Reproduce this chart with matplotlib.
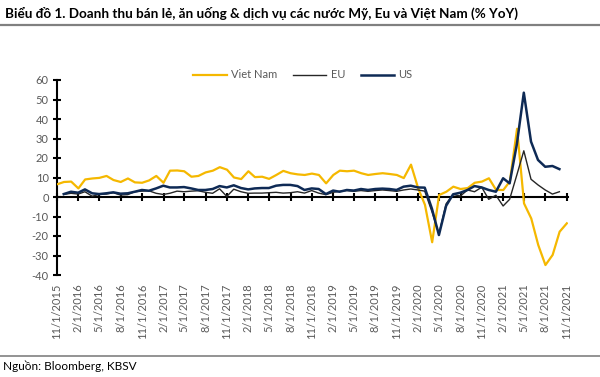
import numpy as np
import pandas as pd
import matplotlib
matplotlib.use("Agg")
import matplotlib.pyplot as plt

plt.rcParams['font.family'] = ['Lato', 'DejaVu Sans']

# Viet Nam, monthly from 11/2015 to 11/2021 (% YoY)
vn = [6.5, 7.7, 7.9, 4.4, 9.0, 9.5, 9.8, 10.8, 8.7, 7.7, 9.5, 7.5,
      7.3, 8.5, 10.8, 7.3, 13.5, 13.6, 13.2, 10.4, 10.8, 12.6, 13.5, 15.3,
      14.0, 10.0, 9.2, 13.2, 10.2, 10.4, 9.3, 11.3, 13.4, 12.2, 11.6, 11.3,
      12.0, 11.3, 7.0, 11.3, 13.5, 13.2, 13.5, 12.2, 11.3, 11.8, 12.2, 11.8,
      11.3, 9.7, 16.6, 4.4, -4.0, -23.2, 1.0, 2.7, 5.3, 4.1, 4.6, 7.3,
      7.9, 9.6, 3.6, 3.6, 8.0, 35.0, -3.3, -11.0, -24.6, -34.9, -29.7, -17.8,
      -13.5]

# US and EU, month-end from 11/2015 to 9/2021 (% YoY)
us = [1.5, 2.7, 2.2, 3.9, 1.9, 1.5, 1.9, 2.4, 1.7, 1.9, 2.7, 3.6,
      3.2, 4.4, 5.8, 4.9, 4.9, 5.1, 4.4, 3.6, 3.6, 4.1, 5.6, 4.9,
      6.0, 4.6, 3.9, 4.4, 4.6, 4.6, 5.8, 6.2, 6.2, 5.6, 3.6, 4.4,
      4.1, 1.5, 3.3, 2.7, 3.6, 3.3, 4.1, 3.6, 4.1, 4.3, 4.1, 3.6,
      5.3, 5.8, 4.9, 4.8, -6.0, -19.5, -4.5, 1.4, 2.2, 3.6, 5.6, 4.9,
      3.6, 2.7, 9.6, 7.0, 27.0, 53.5, 28.4, 19.0, 15.5, 15.9, 14.3]
eu = [1.3, 1.9, 1.5, 2.7, 0.4, 1.3, 1.5, 2.2, 1.0, 1.2, 2.7, 3.0,
      3.2, 1.9, 1.3, 1.9, 3.0, 2.7, 3.0, 3.2, 2.4, 1.9, 4.2, 0.3,
      4.0, 2.7, 1.9, 2.0, 2.0, 2.2, 2.4, 2.0, 2.2, 2.7, 2.0, 3.3,
      2.0, 1.2, 2.4, 2.9, 3.3, 2.9, 3.3, 2.9, 3.3, 3.6, 3.3, 2.9,
      3.6, 4.1, 3.6, 3.0, -7.5, -19.0, -3.5, 1.3, 0.5, 3.6, 2.7, 5.0,
      -1.2, 0.9, -4.6, -1.2, 11.3, 23.7, 9.1, 6.2, 3.6, 1.5, 2.7]

vn_dates = pd.date_range('2015-11-01', periods=len(vn), freq='MS')
us_dates = pd.date_range('2015-11-30', periods=len(us), freq='ME')
tick_dates = pd.date_range('2015-11-01', '2021-11-01', freq='3MS')
tick_labels = [f"{d.month}/{d.day}/{d.year}" for d in tick_dates]
yticks = np.arange(-40, 61, 10)

fig = plt.figure(figsize=(6, 3.77), dpi=100)
ax = fig.add_axes([57/600, 1-275/377, (568-57)/600, (275-80)/377])

ax.plot(vn_dates, vn, color='#F5B800', lw=1.6, label='Viet Nam', zorder=3)
ax.plot(us_dates, eu, color='#262626', lw=1.0, label='EU', zorder=4)
ax.plot(us_dates, us, color='#0E2A55', lw=1.8, label='US', zorder=5)

ax.set_ylim(-40, 60)
ax.set_xlim(pd.Timestamp('2015-11-01'), pd.Timestamp('2021-11-06'))
ax.set_yticks(yticks)
ax.set_yticklabels([str(v) for v in yticks])
ax.spines['top'].set_visible(False)
ax.spines['right'].set_visible(False)
ax.spines['left'].set_linewidth(1.5)
ax.spines['bottom'].set_position(('data', 0))
ax.spines['bottom'].set_linewidth(1.5)
ax.tick_params(axis='y', direction='inout', length=6, width=1.5,
               labelsize=8, labelcolor='#595959', pad=3)
ax.set_xticks(tick_dates)
ax.tick_params(axis='x', direction='inout', length=6, width=1.5,
               labelbottom=False)

sec = ax.secondary_xaxis('bottom')
sec.spines['bottom'].set_visible(False)
sec.set_xticks(tick_dates)
sec.set_xticklabels(tick_labels, rotation=90)
sec.tick_params(length=0, labelsize=8, labelcolor='#595959', pad=6)

fig.legend(loc='center', bbox_to_anchor=(303/600, 1-75/377), ncol=3,
           frameon=False, fontsize=8, handlelength=3.0, handletextpad=0.4,
           columnspacing=1.4, labelcolor='#595959')

fig.text(5/600, 1-13/377,
         'Biểu đồ 1. Doanh thu bán lẻ, ăn uống & dịch vụ các nước Mỹ, Eu và Việt Nam (% YoY)',
         fontsize=9.7, fontweight='bold', va='center', ha='left')
fig.add_artist(plt.Line2D([0, 1], [1-25/377, 1-25/377], color='#808080', lw=1.6))
fig.add_artist(plt.Line2D([0, 1], [1-356/377, 1-356/377], color='#808080', lw=1.2))
fig.text(3/600, 1-366/377, 'Nguồn: Bloomberg, KBSV', fontsize=8.5,
         va='center', ha='left')

fig.savefig('out.png', dpi=100)
